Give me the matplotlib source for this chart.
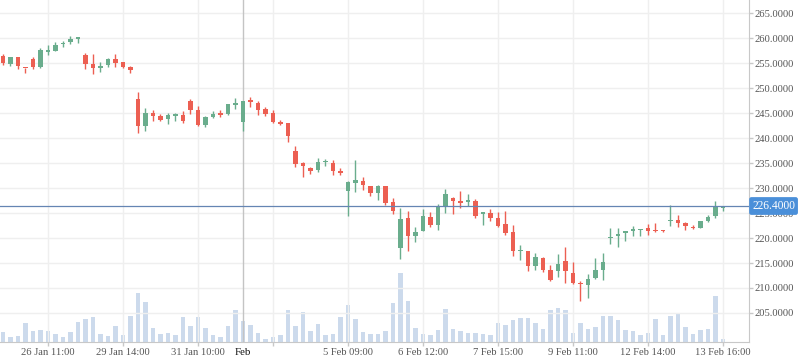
import matplotlib.pyplot as plt
import numpy as np

# OHLC per bar
opens = [256.4, 254.9, 256.2, 254.1, 255.8, 254.3, 257.3, 257.4, 258.8, 259.3,
         259.9, 256.6, 254.8, 254.1, 254.7, 255.8, 255.2, 254.2, 247.8, 242.5,
         245.0, 244.4, 243.9, 244.5, 244.6, 247.4, 245.6, 242.7, 244.3, 244.9,
         244.9, 246.7, 243.3, 247.6, 247.0, 245.8, 245.0, 243.3, 243.0, 237.4,
         235.0, 234.1, 233.6, 235.2, 235.1, 233.4, 229.3, 231.1, 231.4, 230.4,
         229.1, 230.4, 227.1, 217.9, 224.0, 220.4, 221.5, 224.2, 222.7, 226.5,
         228.0, 227.2, 227.2, 227.4, 224.9, 225.0, 224.0, 222.8, 221.2, 217.3,
         217.3, 214.3, 216.0, 213.7, 213.3, 215.3, 213.0, 210.9, 210.5, 211.9,
         213.7, 220.0, 220.5, 221.0, 221.5, 221.6, 222.0, 221.5, 221.5, 223.3,
         223.7, 223.1, 222.2, 222.1, 223.5, 224.3, 226.1]
highs = [256.8, 256.2, 256.2, 254.1, 256.2, 258.0, 258.6, 259.2, 259.4, 260.5,
         260.2, 257.0, 256.9, 255.2, 256.0, 256.9, 255.2, 254.4, 249.3, 246.0,
         245.6, 244.8, 245.0, 245.1, 245.4, 247.8, 246.4, 244.4, 245.4, 245.6,
         246.9, 248.0, 247.4, 248.2, 247.4, 246.2, 245.6, 243.6, 243.0, 238.4,
         235.3, 234.3, 236.0, 235.8, 235.6, 234.0, 231.4, 235.6, 232.2, 230.4,
         230.6, 230.4, 228.1, 226.0, 225.4, 222.2, 225.8, 225.2, 226.8, 229.8,
         228.2, 229.4, 228.8, 227.8, 225.2, 225.8, 225.2, 225.4, 222.6, 218.6,
         217.4, 217.0, 216.2, 214.6, 216.8, 218.2, 215.2, 211.5, 212.8, 216.0,
         217.0, 222.0, 222.0, 221.5, 222.4, 221.9, 222.9, 223.1, 221.6, 226.6,
         224.6, 223.3, 222.7, 223.5, 224.6, 227.4, 226.4]
lows = [254.7, 254.5, 253.9, 253.1, 253.8, 254.0, 256.7, 257.4, 258.3, 258.8,
        259.1, 253.9, 252.9, 253.3, 254.3, 254.3, 254.0, 253.0, 241.1, 241.5,
        243.5, 243.5, 242.9, 243.5, 243.1, 244.9, 242.5, 242.3, 244.1, 244.3,
        244.7, 245.9, 241.5, 246.3, 244.7, 244.5, 243.1, 242.7, 239.3, 234.3,
        232.3, 232.9, 233.2, 234.4, 232.7, 232.7, 224.5, 229.3, 229.7, 228.5,
        227.7, 226.7, 224.9, 215.9, 217.5, 219.3, 221.4, 222.2, 221.7, 225.0,
        224.9, 226.1, 226.4, 224.1, 222.7, 223.5, 222.3, 220.6, 216.5, 215.7,
        213.5, 213.7, 213.3, 211.5, 212.3, 211.1, 210.9, 207.5, 208.1, 211.8,
        211.7, 218.8, 218.3, 219.5, 220.5, 220.4, 220.7, 221.3, 221.3, 222.5,
        222.3, 221.7, 221.9, 222.1, 223.3, 224.1, 225.5]
closes = [255.1, 256.2, 254.5, 254.0, 254.2, 257.6, 257.4, 258.6, 258.9, 259.9,
          260.2, 254.9, 254.1, 254.4, 255.8, 255.1, 254.3, 253.7, 242.5, 245.0,
          244.4, 243.7, 244.7, 244.7, 243.5, 245.7, 242.7, 244.2, 244.9, 244.7,
          246.8, 246.8, 247.4, 247.3, 245.7, 244.9, 243.3, 242.9, 240.5, 234.9,
          234.5, 233.5, 235.2, 235.3, 233.5, 233.0, 231.2, 231.6, 230.7, 229.1,
          230.4, 227.1, 225.3, 223.8, 220.5, 221.2, 224.4, 222.7, 226.4, 228.8,
          227.3, 227.1, 227.6, 224.5, 225.2, 224.1, 222.3, 221.1, 217.3, 217.4,
          214.3, 216.2, 213.7, 211.5, 214.8, 213.3, 210.9, 210.8, 211.8, 213.6,
          215.2, 220.2, 220.9, 221.4, 221.6, 221.7, 221.5, 221.3, 221.3, 223.7,
          223.1, 222.5, 222.0, 223.4, 224.2, 226.1, 226.4]
volumes = [29, 14, 19, 58, 34, 37, 34, 25, 16, 29, 61, 70, 76, 25, 19, 49, 22, 79,
           148, 121, 43, 25, 28, 22, 76, 49, 76, 43, 22, 16, 49, 97, 64, 52, 28, 10,
           16, 22, 97, 49, 91, 34, 55, 22, 25, 76, 112, 70, 31, 25, 25, 34, 118,
           207, 124, 43, 25, 22, 37, 100, 40, 34, 28, 28, 25, 22, 58, 52, 67, 73,
           73, 56, 40, 97, 103, 97, 28, 58, 40, 46, 79, 79, 67, 37, 34, 22, 28, 70,
           22, 79, 85, 46, 25, 37, 40, 139, 10]

tick_pos = [6, 16, 26, 36, 46, 56, 66, 76, 86, 96]
tick_labels = ["26 Jan 11:00", "29 Jan 14:00", "31 Jan 10:00", "", "5 Feb 09:00",
               "6 Feb 12:00", "7 Feb 15:00", "9 Feb 11:00", "12 Feb 14:00", "13 Feb 16:00"]
cross_idx = 32
cross_label = "Feb"
last_price = 226.4

up_col = '#6aad8d'
down_col = '#ec5f52'
font = 'Liberation Serif'

o = np.array(opens); h = np.array(highs); l = np.array(lows); c = np.array(closes)
x = np.arange(len(o))
cols = [up_col if cc >= oo else down_col for oo, cc in zip(o, c)]

fig = plt.figure(figsize=(7.98, 3.63), dpi=100)
ax = fig.add_axes([0, 21/363, 749/798, 342/363])
ax2 = ax.twinx()
ax2.bar(x, volumes, width=0.62, color='#ccdaec', zorder=1)
ax2.set_ylim(0, 1026)
ax2.axis('off')
ax.set_zorder(ax2.get_zorder() + 1)
ax.patch.set_visible(False)

ax.vlines(x, l, h, colors=cols, lw=1, zorder=3)
body = np.maximum(np.abs(c - o), 0.22)
ax.bar(x, body, bottom=np.minimum(o, c), width=0.66, color=cols, zorder=4)

ax.set_xlim(-0.4, 99.47)
ax.set_ylim(199.2, 267.6)
ax.set_yticks(np.arange(205, 266, 5))
ax.yaxis.tick_right()
ax.yaxis.set_major_formatter(plt.FuncFormatter(lambda v, p: f"{v:.4f}"))
ax.set_xticks(tick_pos)
ax.set_xticklabels(tick_labels)
ax.grid(True, color='#efefef', lw=1, zorder=0)
ax.set_axisbelow(True)
for s in ['top', 'left']:
    ax.spines[s].set_visible(False)
for s in ['right', 'bottom']:
    ax.spines[s].set_color('#c8c8c8')
ax.tick_params(axis='both', colors='#c8c8c8', labelcolor='#555555', length=3,
               width=1, pad=1, labelsize=7.6)
for t in ax.get_xticklabels() + ax.get_yticklabels():
    t.set_fontfamily(font)

# crosshair
ax.axvline(cross_idx, color='#c4c4c4', lw=1, zorder=2)
ax.axhline(last_price, color='#6585b3', lw=0.9, zorder=5)
ax.annotate(cross_label, xy=(cross_idx, 0), xycoords=ax.get_xaxis_transform(),
            xytext=(0, -4), textcoords='offset points', ha='center', va='top',
            fontsize=7.8, color='#111111', fontfamily=font, annotation_clip=False)
ax.annotate(f"{last_price:.4f}", xy=(1.0, last_price), xycoords=('axes fraction', 'data'),
            xytext=(2.2, 0), textcoords='offset points', ha='left', va='center',
            fontsize=8.3, color='white', fontfamily=font,
            bbox=dict(boxstyle='round,pad=0.25,rounding_size=0.2', fc='#4a8fd9', ec='none'),
            annotation_clip=False, zorder=10)

fig.savefig('out.png', dpi=100)
